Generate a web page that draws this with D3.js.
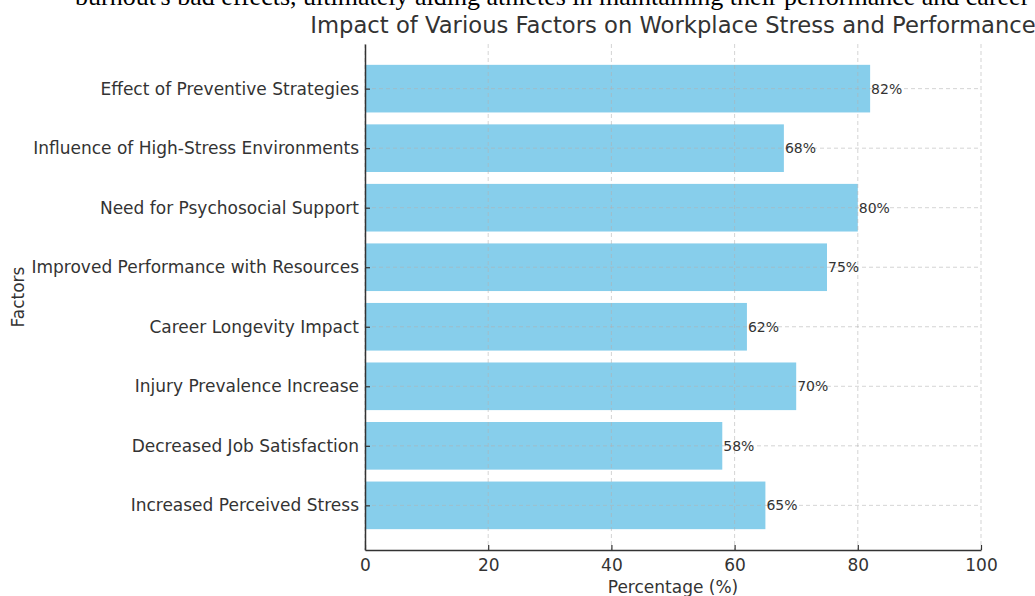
<!DOCTYPE html>
<html>
<head>
<meta charset="utf-8">
<script src="https://cdn.jsdelivr.net/npm/d3@7"></script>
<style>
  body { margin: 0; background: #fff; }
  svg { display: block; font-family: "DejaVu Sans", sans-serif; }
</style>
</head>
<body>
<svg width="1035" height="596"></svg>
<script>
// categories from bottom to top, as in the picture
var factors = [
    "Increased Perceived Stress",
    "Decreased Job Satisfaction",
    "Injury Prevalence Increase",
    "Career Longevity Impact",
    "Improved Performance with Resources",
    "Need for Psychosocial Support",
    "Influence of High-Stress Environments",
    "Effect of Preventive Strategies"
];
var percentages = [65, 58, 70, 62, 75, 80, 68, 82];
var xTicks = [0, 20, 40, 60, 80, 100];

var svg = d3.select("svg");

var plotLeft = 365, plotRight = 981, plotTop = 44, plotBottom = 550;

var x = d3.scaleLinear().domain([0, 100]).range([plotLeft, plotRight]);
// index scale, with matplotlib-like margins round the bars
var y = d3.scaleLinear().domain([-0.75, factors.length - 0.25]).range([plotBottom, plotTop]);
var barH = (y(0) - y(1)) * 0.8;

var data = factors.map(function(f, i) {
    return { name: f, value: percentages[i], i: i };
});

// cut-off caption text from the page above
svg.append("text")
    .attr("x", 75)
    .attr("y", 5)
    .attr("font-family", "Liberation Serif, serif")
    .attr("font-size", 26)
    .attr("fill", "#000")
    .text("burnout's bad effects, ultimately aiding athletes in maintaining their performance and career longevity.");

// bars
svg.selectAll(".bar")
    .data(data)
    .enter().append("rect")
    .attr("class", "bar")
    .attr("x", x(0))
    .attr("y", function(d) { return y(d.i) - barH / 2; })
    .attr("width", function(d) { return x(d.value) - x(0); })
    .attr("height", barH)
    .attr("fill", "#87ceeb");

// grid lines, drawn over the bars
var grid = svg.append("g")
    .attr("stroke", "#b0b0b0")
    .attr("stroke-opacity", 0.55)
    .attr("stroke-dasharray", "4,3")
    .attr("stroke-width", 1);

grid.selectAll(".vg")
    .data(xTicks)
    .enter().append("line")
    .attr("x1", function(d) { return x(d); })
    .attr("x2", function(d) { return x(d); })
    .attr("y1", plotTop)
    .attr("y2", plotBottom);

grid.selectAll(".hg")
    .data(data)
    .enter().append("line")
    .attr("x1", plotLeft)
    .attr("x2", plotRight)
    .attr("y1", function(d) { return y(d.i); })
    .attr("y2", function(d) { return y(d.i); });

// value labels
svg.selectAll(".val")
    .data(data)
    .enter().append("text")
    .attr("x", function(d) { return x(d.value) + 1; })
    .attr("y", function(d) { return y(d.i); })
    .attr("dy", "0.35em")
    .attr("font-size", 14)
    .attr("fill", "#333")
    .text(function(d) { return d.value + "%"; });

// x axis
var xAxis = svg.append("g")
    .attr("transform", "translate(0," + plotBottom + ")")
    .call(d3.axisBottom(x).tickValues(xTicks).tickSizeInner(-5).tickSizeOuter(0).tickPadding(9));
xAxis.select(".domain").attr("stroke", "#333").attr("stroke-width", 1.5);
xAxis.selectAll(".tick line").attr("stroke", "#333").attr("stroke-width", 1.2);
xAxis.selectAll(".tick text")
    .attr("font-size", 17)
    .attr("font-family", "DejaVu Sans, sans-serif")
    .attr("fill", "#333");

// y axis
var yAxis = svg.append("g")
    .attr("transform", "translate(" + plotLeft + ",0)")
    .call(d3.axisLeft(y)
        .tickValues(d3.range(factors.length))
        .tickFormat(function(i) { return factors[i]; })
        .tickSizeInner(-5).tickSizeOuter(0).tickPadding(6));
yAxis.select(".domain").attr("stroke", "#333").attr("stroke-width", 1.5);
yAxis.selectAll(".tick line").attr("stroke", "#333").attr("stroke-width", 1.2);
yAxis.selectAll(".tick text")
    .attr("font-size", 17)
    .attr("font-family", "DejaVu Sans, sans-serif")
    .attr("fill", "#333");

// axis titles
svg.append("text")
    .attr("x", (plotLeft + plotRight) / 2)
    .attr("y", 593)
    .attr("text-anchor", "middle")
    .attr("font-size", 17)
    .attr("fill", "#333")
    .text("Percentage (%)");

svg.append("text")
    .attr("transform", "translate(24," + (plotTop + plotBottom) / 2 + ") rotate(-90)")
    .attr("text-anchor", "middle")
    .attr("font-size", 17)
    .attr("fill", "#333")
    .text("Factors");

// chart title
svg.append("text")
    .attr("x", (plotLeft + plotRight) / 2)
    .attr("y", 33)
    .attr("text-anchor", "middle")
    .attr("font-size", 22.7)
    .attr("fill", "#333")
    .text("Impact of Various Factors on Workplace Stress and Performance");
</script>
</body>
</html>
